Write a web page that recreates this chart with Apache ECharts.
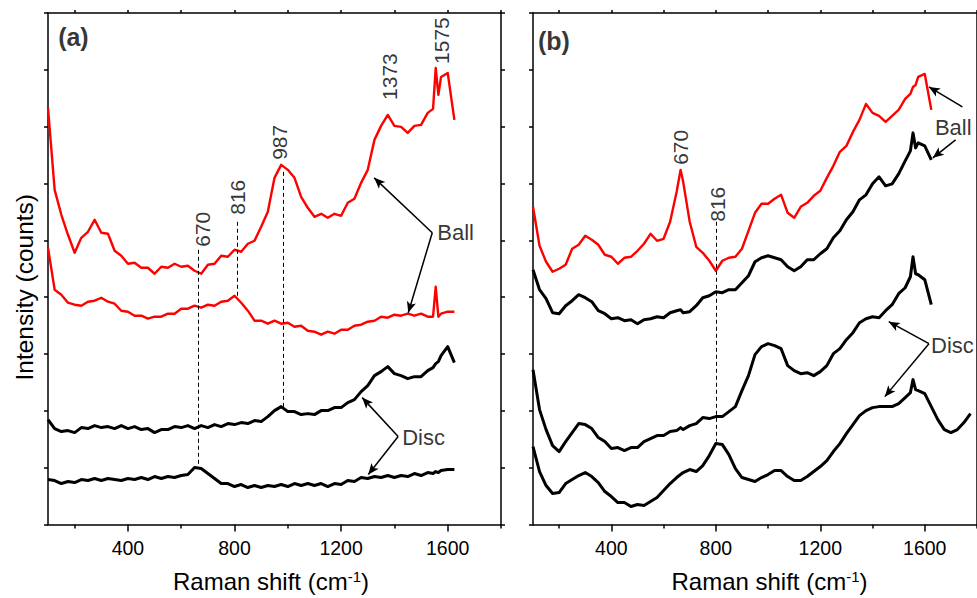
<!DOCTYPE html>
<html>
<head>
<meta charset="utf-8">
<script src="https://cdn.jsdelivr.net/npm/echarts@6/dist/echarts.min.js"></script>
<style>
html,body{margin:0;padding:0;background:#fff;}
#chart{width:977px;height:598px;}
</style>
</head>
<body>
<div id="chart"></div>
<script>
// ---------- DATA (intensity in arbitrary units, offset-stacked as in the figure) ----------
const shiftA = [100,125,150,175,200,225,250,275,300,325,350,375,400,425,450,475,500,525,550,575,600,625,650,675,700,725,750,775,800,825,850,875,900,925,950,975,1000,1025,1050,1075,1100,1125,1150,1175,1200,1225,1250,1275,1300,1325,1350,1375,1400,1425,1450,1475,1500,1525,1545,1555,1565,1575,1600,1625];
const ballA1 = [417,335,310,290,272,287,293,305,292,291,274,269,261,262,257,257,251,258,257,261,258,259,254,251,260,261,269,268,275,273,281,284,298,313,347,360,355,347,328,317,308,311,307,311,309,322,326,342,355,385,399,410,399,398,392,399,400,412,416,457,430,448,452,405];
const ballA2 = [277,235,230,222,220,219,223,224,227,223,221,214,213,209,209,206,208,208,211,211,216,216,219,217,220,219,223,224,229,222,214,204,204,201,204,201,202,198,199,194,193,190,193,191,195,195,199,200,203,204,208,207,210,209,211,209,211,208,208,238,208,211,213,213];
const discA1 = [105,96,93,94,92,97,96,99,97,98,96,99,96,98,95,96,92,95,95,98,97,99,96,99,97,100,98,101,100,102,101,104,103,108,114,118,113,113,110,111,110,114,114,117,117,122,125,133,139,149,153,158,151,149,146,148,148,154,157,161,163,169,178,162];
const discA2 = [45,44,41,43,42,45,44,46,44,46,45,44,46,45,47,45,48,46,48,47,49,50,57,56,51,46,41,41,38,40,37,39,37,39,38,40,38,41,39,41,39,41,38,41,40,44,43,47,46,48,47,49,47,49,48,51,49,52,51,53,52,54,55,55];

const shiftB = [100,125,150,175,200,225,250,275,300,325,350,375,400,425,450,475,500,525,550,575,600,625,650,665,675,700,725,750,775,800,825,850,875,900,925,950,975,1000,1025,1050,1075,1100,1125,1150,1175,1200,1225,1250,1275,1300,1325,1350,1375,1400,1425,1450,1475,1500,1525,1545,1555,1565,1575,1600,1625,1650,1675,1700,1725,1750,1775];
const ballB1 = [318,279,263,253,256,260,276,280,289,285,280,270,268,261,267,268,274,281,291,284,286,303,333,355,343,303,278,272,264,254,264,267,268,276,294,312,321,321,326,330,312,307,318,322,329,334,347,359,373,379,393,405,421,412,409,403,409,415,426,431,438,440,448,451,415];
const ballB2 = [255,235,226,212,211,219,224,230,227,223,214,211,206,207,204,205,201,205,206,208,207,212,214,215,212,213,219,227,229,233,232,235,235,242,249,263,267,269,267,265,258,254,258,265,265,271,276,287,294,305,313,325,330,341,348,339,341,351,364,374,392,377,382,379,365];
const discB1 = [155,115,95,79,73,83,92,101,100,96,87,83,76,77,74,77,77,83,86,89,89,93,94,97,95,99,101,107,106,108,108,113,118,134,149,170,178,181,179,176,159,154,151,152,149,153,159,171,176,185,192,202,206,208,207,214,220,231,237,248,268,251,250,245,220];
const discB2 = [78,53,39,31,32,41,45,49,52,48,42,33,28,22,22,18,20,19,23,27,34,41,47,50,52,55,53,59,69,81,80,70,56,47,45,43,47,50,54,54,48,44,44,48,53,58,64,73,81,91,100,109,114,117,118,118,118,121,127,132,145,135,134,131,118,105,95,92,95,102,111];

const xTicksMajor = [400,800,1200,1600];
const xTicksMinor = [200,600,1000,1400,1800];
const xTicksTop = [200,400,600,800,1000,1200,1400,1600,1800];

// annotations: [text, x, y]
const peakLabelsA = [['670',680,278],['816',813,310],['987',969,365],['1373',1382,425],['1575',1576,461]];
const peakLabelsB = [['670',666,360],['816',805,303]];
// dashed guides: [x, yTop, yBottom]
const guidesA = [[663,275,58],[810,303,227],[983,353,117]];
const guidesB = [[803,303,83]];
// arrows: [xFrom, yFrom, xTo, yTo]
const arrowsA = [[1542,292,1324,347],[1542,292,1452,212],[1414,88,1279,127],[1414,88,1302,50]];
const arrowsB = [[1744,418,1616,438],[1718,385,1631,367],[1616,181,1462,203],[1616,181,1447,128]];
const sampleLabelsA = [['Ball',1561,292],['Disc',1429,87]];
const sampleLabelsB = [['Ball',1639,397],['Disc',1624,179]];
const panelTags = [['(a)',138,488],['(b)',119,484]];

// ---------- CHART ----------
const FONT = 'Liberation Sans, Arial, sans-serif';
const chart = echarts.init(document.getElementById('chart'), null, {renderer: 'svg'});

function pairs(xs, ys) { return ys.map((y, i) => [xs[i], y]); }

const axisLineStyle = {color: '#000', width: 1.5};
const xTitle = '{t|Raman shift (cm}{s|-1}{t|)}';
const xTitleRich = {
  t: {fontSize: 24, fontFamily: FONT, color: '#000'},
  s: {fontSize: 15, fontFamily: FONT, color: '#000', verticalAlign: 'top', padding: [0, 0, 10, 0]}
};

function xAxesFor(grid, titlePad) {
  return [
    {gridIndex: grid, type: 'value', min: 100, max: 1800, position: 'bottom',
     axisLine: {lineStyle: axisLineStyle},
     axisTick: {customValues: xTicksMajor, length: 7, lineStyle: {width: 1.5, color: '#000'}},
     axisLabel: {customValues: xTicksMajor, fontSize: 19.5, fontFamily: FONT, color: '#000', margin: 13,
       formatter: v => String(v)},
     splitLine: {show: false},
     name: xTitle, nameLocation: 'middle', nameGap: 44,
     nameTextStyle: {rich: xTitleRich, padding: titlePad}},
    {gridIndex: grid, type: 'value', min: 100, max: 1800, position: 'bottom',
     axisLine: {show: false},
     axisTick: {customValues: xTicksMinor, length: 4, lineStyle: {width: 1.5, color: '#000'}},
     axisLabel: {show: false}, splitLine: {show: false}},
    {gridIndex: grid, type: 'value', min: 100, max: 1800, position: 'top',
     axisLine: {lineStyle: axisLineStyle},
     axisTick: {customValues: xTicksTop, length: 3, lineStyle: {width: 1.5, color: '#000'}},
     axisLabel: {show: false}, splitLine: {show: false}}
  ];
}
function yAxesFor(grid, withName) {
  const base = {gridIndex: grid, type: 'value', min: 0, max: 512, interval: 512 / 9,
    axisLine: {show: true, lineStyle: axisLineStyle},
    axisTick: {show: true, length: 4, lineStyle: {width: 1.5, color: '#000'}},
    axisLabel: {show: false}, splitLine: {show: false}};
  const left = Object.assign({}, base, {position: 'left'});
  if (withName) {
    Object.assign(left, {name: 'Intensity (counts)', nameLocation: 'middle', nameGap: 11,
      nameTextStyle: {fontSize: 24.5, fontFamily: FONT, color: '#000', padding: [0, 37, 0, 0]}});
  }
  return [left, Object.assign({}, base, {position: 'right'})];
}

function curve(xs, ys, color, width, xi, yi) {
  return {type: 'line', data: pairs(xs, ys), xAxisIndex: xi, yAxisIndex: yi,
    showSymbol: false, symbol: 'none', lineStyle: {color: color, width: width, join: 'round'},
    silent: true, z: 2};
}

function annotations(xi, yi, peaks, guides, arrows, samples, tag) {
  const out = [];
  out.push({type: 'scatter', xAxisIndex: xi, yAxisIndex: yi, symbolSize: 0, silent: true, z: 5,
    data: peaks.map(p => ({name: p[0], value: [p[1], p[2]]})),
    label: {show: true, formatter: '{b}', position: 'inside', rotate: 90, align: 'left',
      verticalAlign: 'middle', fontSize: 21, fontFamily: FONT, color: '#000'}});
  out.push({type: 'scatter', xAxisIndex: xi, yAxisIndex: yi, symbolSize: 0, silent: true, z: 5,
    data: samples.map(p => ({name: p[0], value: [p[1], p[2]]})),
    label: {show: true, formatter: '{b}', position: 'inside', align: 'left',
      verticalAlign: 'middle', fontSize: 22, fontFamily: FONT, color: '#000'}});
  out.push({type: 'scatter', xAxisIndex: xi, yAxisIndex: yi, symbolSize: 0, silent: true, z: 5,
    data: [{name: tag[0], value: [tag[1], tag[2]]}],
    label: {show: true, formatter: '{b}', position: 'inside', align: 'left',
      verticalAlign: 'middle', fontSize: 25, fontWeight: 'bold', fontFamily: FONT, color: '#000'},
    markLine: {silent: true, symbol: ['none', 'none'], label: {show: false},
      lineStyle: {color: '#000', width: 1, type: [4, 3]},
      data: guides.map(g => [{coord: [g[0], g[1]]}, {coord: [g[0], g[2]]}])}});
  out.push({type: 'scatter', xAxisIndex: xi, yAxisIndex: yi, symbolSize: 0, silent: true, z: 5,
    data: [],
    markLine: {silent: true, symbol: ['none', 'arrow'], symbolSize: [7, 11], label: {show: false},
      lineStyle: {color: '#000', width: 1.5, type: 'solid'},
      data: arrows.map(a => [{coord: [a[0], a[1]]}, {coord: [a[2], a[3]]}])}});
  return out;
}

const option = {
  animation: false,
  backgroundColor: '#fff',
  grid: [
    {left: 48, top: 13, width: 453, height: 512},
    {left: 533, top: 13, width: 453, height: 512}
  ],
  xAxis: [].concat(xAxesFor(0, [0, 7, 0, 0]), xAxesFor(1, [0, 0, 0, 29])),
  yAxis: [].concat(yAxesFor(0, true), yAxesFor(1, false)),
  series: [
    curve(shiftA, ballA1, '#ff0000', 2.4, 0, 0),
    curve(shiftA, ballA2, '#ff0000', 2.4, 0, 0),
    curve(shiftA, discA1, '#000000', 3, 0, 0),
    curve(shiftA, discA2, '#000000', 3, 0, 0),
    curve(shiftB, ballB1, '#ff0000', 2.4, 3, 2),
    curve(shiftB, ballB2, '#000000', 3, 3, 2),
    curve(shiftB, discB1, '#000000', 3, 3, 2),
    curve(shiftB, discB2, '#000000', 3, 3, 2)
  ].concat(
    annotations(0, 0, peakLabelsA, guidesA, arrowsA, sampleLabelsA, panelTags[0]),
    annotations(3, 2, peakLabelsB, guidesB, arrowsB, sampleLabelsB, panelTags[1])
  )
};
chart.setOption(option);
</script>
</body>
</html>
